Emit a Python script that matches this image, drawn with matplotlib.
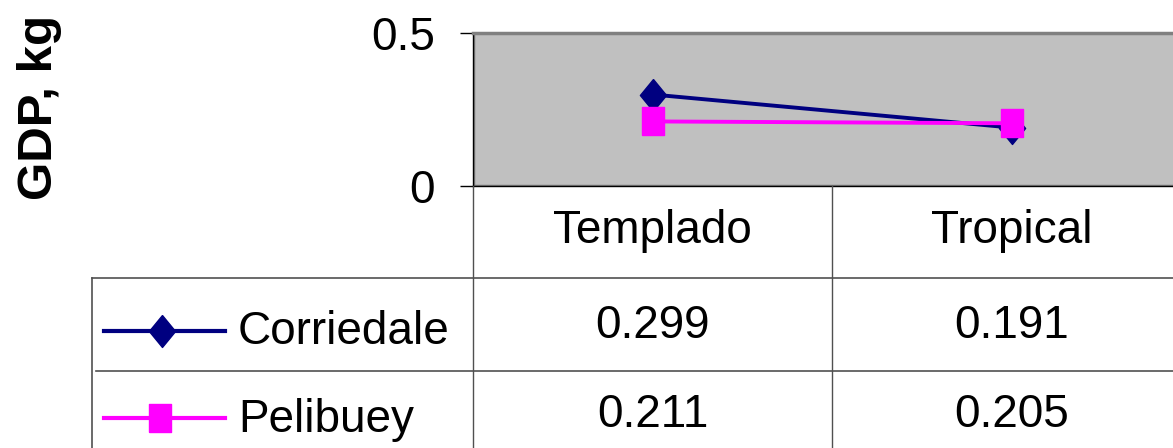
import matplotlib
matplotlib.use("Agg")
import matplotlib.pyplot as plt
from matplotlib.lines import Line2D

plt.rcParams['font.family'] = ['Liberation Sans', 'DejaVu Sans']

# данные
categories = ['Templado', 'Tropical']
series_names = ['Corriedale', 'Pelibuey']
corriedale = [0.299, 0.191]
pelibuey = [0.211, 0.205]
y_ticks = [0, 0.5]
y_tick_labels = ['0', '0.5']

W, H = 1173, 448
fig = plt.figure(figsize=(W / 100, H / 100), dpi=100)

# пиксельная сетка: область графика
x0, x1 = 473, 1191
y_top, y_bot = 33, 186
rows = [186, 278, 371, 464]
tab_left = 92

ax = fig.add_axes([x0 / W, 1 - y_bot / H, (x1 - x0) / W, (y_bot - y_top) / H])
ax.set_facecolor('#C0C0C0')
ax.set_xlim(-0.5, 1.5)
ax.set_ylim(0, 0.5)
ax.set_xticks([])
ax.set_yticks(y_ticks)
ax.set_yticklabels(y_tick_labels, fontsize=33)
ax.tick_params(axis='y', direction='out', length=9.5, width=1, pad=18, color='black')
for s in ['left', 'bottom']:
    ax.spines[s].set_color('black')
    ax.spines[s].set_linewidth(1)
ax.spines['top'].set_color('#808080')
ax.spines['top'].set_linewidth(2.5)
ax.spines['right'].set_visible(False)
# внутренняя серая рамка слева и снизу
ax.axvline(-0.5, color='#808080', lw=2.5, zorder=1)
ax.axhline(0, color='#808080', lw=2.5, zorder=1)

# маркеры чуть вытянуты по вертикали, как в оригинале
diamond = [(0, 0.5), (0.41, 0), (0, -0.5), (-0.41, 0), (0, 0.5)]
square = [(-0.38, -0.5), (0.38, -0.5), (0.38, 0.5), (-0.38, 0.5), (-0.38, -0.5)]
xs = range(len(categories))
ax.plot(xs, corriedale, color='#000080', lw=2.8, marker=diamond, ms=23,
        markeredgecolor='#000080', markerfacecolor='#000080', clip_on=False, zorder=3)
ax.plot(xs, pelibuey, color='#FF00FF', lw=2.8, marker=square, ms=20,
        markeredgecolor='#FF00FF', markerfacecolor='#FF00FF', clip_on=False, zorder=3)

fig.text(40 / W, 1 - 107 / H, 'GDP, kg', rotation=90, fontsize=35.5, fontweight='bold',
         ha='center', va='center')

# таблица данных в пиксельных координатах
tab = fig.add_axes([0, 0, 1, 1])
tab.set_xlim(0, W)
tab.set_ylim(H, 0)
tab.axis('off')
tab.patch.set_alpha(0)

lc = '#505050'
col_edges = [x0, (x0 + x1) / 2, x1]
for xe in col_edges:
    tab.plot([xe, xe], [rows[0], H + 5], color=lc, lw=1, clip_on=False)
tab.plot([tab_left, tab_left], [rows[1], H + 5], color=lc, lw=1.2, clip_on=False)
tab.plot([tab_left, W], [rows[1], rows[1]], color=lc, lw=1.2)
tab.plot([96, W], [rows[2], rows[2]], color=lc, lw=1.2)

col_centers = [(col_edges[i] + col_edges[i + 1]) / 2 for i in range(len(categories))]
for cx, cat in zip(col_centers, categories):
    tab.text(cx, 243, cat, fontsize=33, ha='center', va='baseline')

values = [corriedale, pelibuey]
baselines = [338, 427]
for vals, yb in zip(values, baselines):
    for cx, v in zip(col_centers, vals):
        tab.text(cx, yb, f'{v:.3f}', fontsize=33, ha='center', va='baseline')

# легенда в таблице
keys = [('#000080', diamond, 23, 331, 344, 162), ('#FF00FF', square, 20, 418, 432, 160)]
for name, (c, m, ms, ly, tb, mx) in zip(series_names, keys):
    tab.add_line(Line2D([104, 225], [ly, ly], color=c, lw=3))
    tab.add_line(Line2D([mx], [ly], marker=m, ms=ms, color=c, markeredgecolor=c))
    tab.text(238, tb, name, fontsize=33, ha='left', va='baseline')

fig.savefig('out.png', dpi=100)
